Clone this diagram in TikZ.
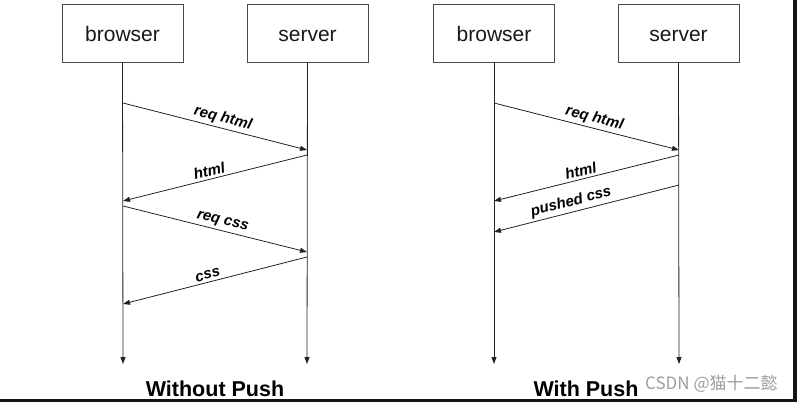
\documentclass[tikz,border=0pt]{standalone}
\usepackage{fontspec}
\setmainfont{Liberation Sans}
\newfontfamily\cjkfont{Noto Sans CJK SC}
\usetikzlibrary{arrows.meta}
\definecolor{linec}{HTML}{222222}
\definecolor{boxc}{HTML}{4A4A4A}
\definecolor{frame}{HTML}{141414}
\tikzset{
  actor/.style={draw=boxc, line width=0.9pt, minimum width=121pt, minimum height=58pt, inner sep=0pt, text height=16pt, text depth=0pt, font=\fontsize{21}{24}\selectfont, text=black!90},
  life/.style={draw=linec, line width=0.8pt, -{Triangle[length=7pt,width=5pt]}},
  msg/.style={draw=linec, line width=0.8pt, -{Triangle[length=7pt,width=5pt]}},
  lbl/.style={sloped, above, inner sep=2.5pt, font=\fontsize{15}{17}\bfseries\itshape\selectfont},
  title/.style={font=\fontsize{21.5}{24}\bfseries\selectfont, inner sep=0pt, anchor=base},
}
\begin{document}
\begin{tikzpicture}[x=1pt,y=-1pt]
\useasboundingbox (0,0) rectangle (797,402);
\fill[white] (0,0) rectangle (797,402);
% left diagram
\node[actor] (B1) at (122.5,33) {browser};
\node[actor] (S1) at (307.5,33) {server};
\coordinate (B1e) at (123,364);
\coordinate (S1e) at (307,364);
\draw[life] (B1.south) -- (B1e);
\draw[life] (S1.south) -- (S1e);
\coordinate (a1) at (123,103); \coordinate (a2) at (307,150);
\coordinate (a3) at (307,155); \coordinate (a4) at (123,201);
\coordinate (a5) at (123,206); \coordinate (a6) at (307,252);
\coordinate (a7) at (307,257); \coordinate (a8) at (123,304);
\draw[msg] (a1) -- (a2) node[lbl,pos=0.53] {req html};
\draw[msg] (a3) -- (a4) node[lbl,pos=0.52] {html};
\draw[msg] (a5) -- (a6) node[lbl,pos=0.53] {req css};
\draw[msg] (a7) -- (a8) node[lbl,pos=0.53] {css};
\node[title] (T1) at (215,396) {Without Push};
% right diagram
\node[actor] (B2) at (494,33) {browser};
\node[actor] (S2) at (678.5,33) {server};
\coordinate (B2e) at (494,364);
\coordinate (S2e) at (679,364);
\draw[life] (B2.south) -- (B2e);
\draw[life] (S2.south) -- (S2e);
\coordinate (c1) at (494,103); \coordinate (c2) at (679,150);
\coordinate (c3) at (679,155); \coordinate (c4) at (494,201);
\coordinate (c5) at (679,185); \coordinate (c6) at (494,232);
\draw[msg] (c1) -- (c2) node[lbl,pos=0.53] {req html};
\draw[msg] (c3) -- (c4) node[lbl,pos=0.52] {html};
\draw[msg] (c5) -- (c6) node[lbl,pos=0.57] {pushed css};
\node[title] (T2) at (586,396) {With Push};
\node[anchor=base west, inner sep=0pt, text=black!38, font=\cjkfont\fontsize{17}{19}\selectfont] (W) at (645,389) {CSDN @猫十二懿};
% frame
\fill[frame] (793,0) rectangle (797,402);
\fill[frame] (0,399) rectangle (797,402);
\end{tikzpicture}
\end{document}
